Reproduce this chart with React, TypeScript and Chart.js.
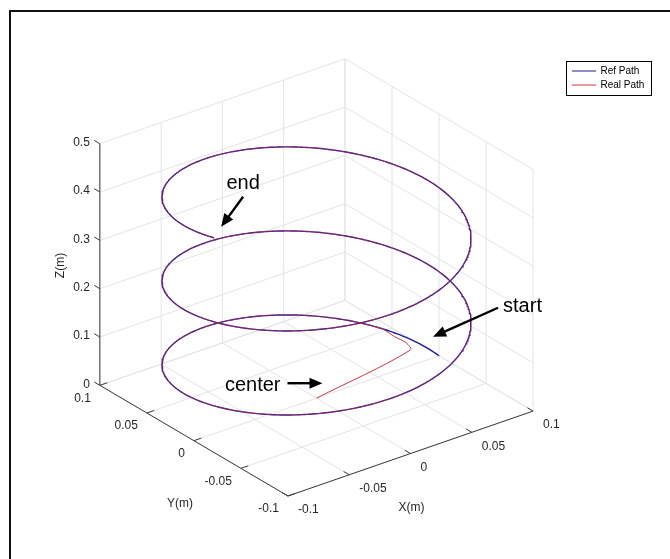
import React, { useEffect, useRef } from "react";
import { Chart, registerables } from "chart.js";

Chart.register(...registerables);

// ---------- data ----------
const X_LIMITS = [-0.1, 0.1];
const Y_LIMITS = [-0.1, 0.1];
const Z_LIMITS = [0, 0.5];
const X_TICKS = [-0.1, -0.05, 0, 0.05, 0.1];
const Y_TICKS = [-0.1, -0.05, 0, 0.05, 0.1];
const Z_TICKS = [0, 0.1, 0.2, 0.3, 0.4, 0.5];
const X_TICK_LABELS = ["-0.1", "-0.05", "0", "0.05", "0.1"];
const Y_TICK_LABELS = ["-0.1", "-0.05", "0", "0.05", "0.1"];
const Z_TICK_LABELS = ["0", "0.1", "0.2", "0.3", "0.4", "0.5"];
const AXIS_TITLES = ["X(m)", "Y(m)", "Z(m)"];
const SERIES_NAMES = ["Ref Path", "Real Path"];

// reference helix: radius, angle range (deg), z range (m)
const REF_RADIUS = [0.1];
const REF_ANGLE_DEG = [0, 911];
const REF_Z = [0, 0.44];
// real path: approach from the centre, then it joins the reference helix
const REAL_APPROACH_X = [0, 0.088, 0.0915, 0.09];
const REAL_APPROACH_Y = [0, 0.015, 0.024, 0.034];
const REAL_APPROACH_Z = [0, 0.005, 0.007, 0.009];
const REAL_JOIN_ANGLE_DEG = [27];

const ANNOTATION_TEXTS = ["end", "start", "center"];

// ---------- view (MATLAB default 3-D view) ----------
const VIEW_AZ = -37.5;
const VIEW_EL = 30;
const U_RANGE = [-1.0242, 1.1441];
const V_RANGE = [-1.0093, 0.9943];

const FONT = '"Liberation Sans", Arial, Helvetica, sans-serif';
const REF_COLOR = "#1d1d9e";
const REAL_OVERLAP_COLOR = "rgba(215,40,50,0.6)";
const REAL_COLOR = "#d0343e";
const GRID_COLOR = "#e3e3e3";
const AXIS_COLOR = "#3a3a3a";
const TEXT_COLOR = "#262626";

function project(x: number, y: number, z: number) {
  const xn = (x - X_LIMITS[0]) / (X_LIMITS[1] - X_LIMITS[0]) - 0.5;
  const yn = (y - Y_LIMITS[0]) / (Y_LIMITS[1] - Y_LIMITS[0]) - 0.5;
  const zn = (z - Z_LIMITS[0]) / (Z_LIMITS[1] - Z_LIMITS[0]) - 0.5;
  const a = (VIEW_AZ * Math.PI) / 180;
  const e = (VIEW_EL * Math.PI) / 180;
  return {
    x: Math.cos(a) * xn + Math.sin(a) * yn,
    y: -Math.sin(e) * Math.sin(a) * xn + Math.sin(e) * Math.cos(a) * yn + Math.cos(e) * zn,
  };
}

function helixPoint(deg: number) {
  const t = (deg * Math.PI) / 180;
  const frac = (deg - REF_ANGLE_DEG[0]) / (REF_ANGLE_DEG[1] - REF_ANGLE_DEG[0]);
  return [
    REF_RADIUS[0] * Math.cos(t),
    REF_RADIUS[0] * Math.sin(t),
    REF_Z[0] + frac * (REF_Z[1] - REF_Z[0]),
  ];
}

function buildRef() {
  const pts: { x: number; y: number }[] = [];
  for (let d = REF_ANGLE_DEG[0]; d <= REF_ANGLE_DEG[1]; d += 1) {
    const [x, y, z] = helixPoint(d);
    pts.push(project(x, y, z));
  }
  return pts;
}

function buildReal() {
  const pts: { x: number; y: number }[] = [];
  for (let i = 0; i < REAL_APPROACH_X.length; i++) {
    pts.push(project(REAL_APPROACH_X[i], REAL_APPROACH_Y[i], REAL_APPROACH_Z[i]));
  }
  for (let d = REAL_JOIN_ANGLE_DEG[0]; d <= REF_ANGLE_DEG[1]; d += 1) {
    const [x, y, z] = helixPoint(d);
    pts.push(project(x, y, z));
  }
  return pts;
}

type P3 = [number, number, number];

function segDataset(a: P3, b: P3, color: string, width: number, order: number) {
  return {
    label: "",
    data: [project(a[0], a[1], a[2]), project(b[0], b[1], b[2])],
    borderColor: color,
    borderWidth: width,
    showLine: true,
    pointRadius: 0,
    tension: 0,
    order,
    decor: true,
  };
}

function buildDatasets() {
  const ds: any[] = [];
  const [x0, x1] = X_LIMITS;
  const [y0, y1] = Y_LIMITS;
  const [z0, z1] = Z_LIMITS;
  // floor grid (z = z0)
  X_TICKS.forEach((xt) => ds.push(segDataset([xt, y0, z0], [xt, y1, z0], GRID_COLOR, 1, 4)));
  Y_TICKS.forEach((yt) => ds.push(segDataset([x0, yt, z0], [x1, yt, z0], GRID_COLOR, 1, 4)));
  // back wall y = y1
  X_TICKS.forEach((xt) => ds.push(segDataset([xt, y1, z0], [xt, y1, z1], GRID_COLOR, 1, 4)));
  Z_TICKS.forEach((zt) => ds.push(segDataset([x0, y1, zt], [x1, y1, zt], GRID_COLOR, 1, 4)));
  // back wall x = x1
  Y_TICKS.forEach((yt) => ds.push(segDataset([x1, yt, z0], [x1, yt, z1], GRID_COLOR, 1, 4)));
  Z_TICKS.forEach((zt) => ds.push(segDataset([x1, y0, zt], [x1, y1, zt], GRID_COLOR, 1, 4)));
  // axes
  ds.push(segDataset([x0, y0, z0], [x1, y0, z0], AXIS_COLOR, 1, 3));
  ds.push(segDataset([x0, y0, z0], [x0, y1, z0], AXIS_COLOR, 1, 3));
  ds.push(segDataset([x0, y1, z0], [x0, y1, z1], AXIS_COLOR, 1, 3));
  // ticks
  const tl = 0.03;
  X_TICKS.forEach((xt) => ds.push(segDataset([xt, y0, z0], [xt, y0 + tl * (y1 - y0), z0], AXIS_COLOR, 1, 3)));
  Y_TICKS.forEach((yt) => ds.push(segDataset([x0, yt, z0], [x0 + tl * (x1 - x0), yt, z0], AXIS_COLOR, 1, 3)));
  Z_TICKS.forEach((zt) => ds.push(segDataset([x0, y1, zt], [x0, y1 + tl * (y1 - y0), zt], AXIS_COLOR, 1, 3)));
  // paths
  ds.push({
    label: SERIES_NAMES[0],
    data: buildRef(),
    borderColor: REF_COLOR,
    borderWidth: 1.4,
    showLine: true,
    pointRadius: 0,
    tension: 0,
    order: 2,
    legendColor: REF_COLOR,
  });
  const approachCount = REAL_APPROACH_X.length + 4;
  ds.push({
    label: SERIES_NAMES[1],
    data: buildReal(),
    borderColor: REAL_OVERLAP_COLOR,
    borderWidth: 1,
    showLine: true,
    pointRadius: 0,
    tension: 0.35,
    order: 1,
    legendColor: REAL_COLOR,
    segment: {
      borderColor: (c: any) => (c.p0DataIndex < approachCount ? REAL_COLOR : REAL_OVERLAP_COLOR),
    },
  });
  return ds;
}

function drawArrow(ctx: CanvasRenderingContext2D, x1: number, y1: number, x2: number, y2: number) {
  const dx = x2 - x1, dy = y2 - y1;
  const len = Math.hypot(dx, dy);
  const ux = dx / len, uy = dy / len;
  const hl = 13, hw = 5.5;
  const bx = x2 - ux * hl, by = y2 - uy * hl;
  ctx.save();
  ctx.strokeStyle = "#000";
  ctx.fillStyle = "#000";
  ctx.lineWidth = 2.4;
  ctx.beginPath();
  ctx.moveTo(x1, y1);
  ctx.lineTo(bx + ux * 1, by + uy * 1);
  ctx.stroke();
  ctx.beginPath();
  ctx.moveTo(x2, y2);
  ctx.lineTo(bx - uy * hw, by + ux * hw);
  ctx.lineTo(bx + uy * hw, by - ux * hw);
  ctx.closePath();
  ctx.fill();
  ctx.restore();
}

const overlayPlugin = {
  id: "overlay3d",
  afterDraw(chart: any) {
    const ctx: CanvasRenderingContext2D = chart.ctx;
    const sx = chart.scales.x, sy = chart.scales.y;
    const pix = (x: number, y: number, z: number) => {
      const p = project(x, y, z);
      return [sx.getPixelForValue(p.x), sy.getPixelForValue(p.y)];
    };
    const [x0, x1] = X_LIMITS;
    const [y0, y1] = Y_LIMITS;
    const [z0, z1] = Z_LIMITS;
    ctx.save();
    ctx.fillStyle = TEXT_COLOR;
    ctx.font = `12px ${FONT}`;
    ctx.textBaseline = "middle";
    // x tick labels
    ctx.textAlign = "left";
    X_TICKS.forEach((xt, i) => {
      const [px, py] = pix(xt, y0, z0);
      ctx.fillText(X_TICK_LABELS[i], px + 10, py + 14);
    });
    // y tick labels
    ctx.textAlign = "right";
    Y_TICKS.forEach((yt, i) => {
      const [px, py] = pix(x0, yt, z0);
      ctx.fillText(Y_TICK_LABELS[i], px - 9, py + 13);
    });
    // z tick labels
    Z_TICKS.forEach((zt, i) => {
      const [px, py] = pix(x0, y1, zt);
      ctx.fillText(Z_TICK_LABELS[i], px - 10, py - 1);
    });
    // axis titles
    ctx.textAlign = "center";
    {
      const [px, py] = pix((x0 + x1) / 2, y0, z0);
      ctx.fillText(AXIS_TITLES[0], px + 1, py + 54);
    }
    {
      const [px, py] = pix(x0, (y0 + y1) / 2, z0);
      ctx.fillText(AXIS_TITLES[1], px - 14, py + 63);
    }
    {
      const [px, py] = pix(x0, y1, (z0 + z1) / 2);
      ctx.save();
      ctx.translate(px - 39, py + 1);
      ctx.rotate(-Math.PI / 2);
      ctx.fillText(AXIS_TITLES[2], 0, 0);
      ctx.restore();
    }
    ctx.restore();

    // annotations anchored to path points
    const refEnd = helixPoint(REF_ANGLE_DEG[1]);
    const refStart = helixPoint(REF_ANGLE_DEG[0]);
    const [ex, ey] = pix(refEnd[0], refEnd[1], refEnd[2]);
    const [stx, sty] = pix(refStart[0], refStart[1], refStart[2]);
    const [cx, cy] = pix(REAL_APPROACH_X[0], REAL_APPROACH_Y[0], REAL_APPROACH_Z[0]);
    ctx.save();
    ctx.fillStyle = "#000";
    ctx.font = `20px ${FONT}`;
    ctx.textBaseline = "middle";
    // end
    drawArrow(ctx, ex + 29, ey - 41, ex + 7, ey - 11);
    ctx.textAlign = "center";
    ctx.fillText(ANNOTATION_TEXTS[0], ex + 29, ey - 54);
    // start
    drawArrow(ctx, stx + 59, sty - 48, stx - 6, sty - 19);
    ctx.textAlign = "left";
    ctx.fillText(ANNOTATION_TEXTS[1], stx + 64, sty - 49);
    // center
    drawArrow(ctx, cx - 29, cy - 15, cx + 6, cy - 15);
    ctx.textAlign = "right";
    ctx.fillText(ANNOTATION_TEXTS[2], cx - 36, cy - 13);
    ctx.restore();

    // legend
    const items = chart.data.datasets.filter((d: any) => !d.decor);
    ctx.save();
    const lx = 566.5, ly = 61.5, lw = 85, lh = 34;
    ctx.fillStyle = "#fff";
    ctx.fillRect(lx, ly, lw, lh);
    ctx.strokeStyle = "#000";
    ctx.lineWidth = 1;
    ctx.strokeRect(lx, ly, lw, lh);
    ctx.font = `10px ${FONT}`;
    ctx.textAlign = "left";
    ctx.textBaseline = "middle";
    items.forEach((d: any, i: number) => {
      const yy = ly + 9.5 + i * 14;
      ctx.strokeStyle = d.legendColor;
      ctx.lineWidth = 1;
      ctx.beginPath();
      ctx.moveTo(lx + 5.5, yy);
      ctx.lineTo(lx + 29.5, yy);
      ctx.stroke();
      ctx.fillStyle = "#000";
      ctx.fillText(d.label, lx + 34, yy);
    });
    ctx.restore();

    // figure frame (top & left edges visible)
    ctx.save();
    ctx.fillStyle = "#111";
    ctx.fillRect(9, 10, chart.width, 2);
    ctx.fillRect(9, 10, 2, chart.height);
    ctx.restore();
  },
};

export default function App() {
  const ref = useRef<HTMLCanvasElement | null>(null);
  useEffect(() => {
    if (!ref.current) return;
    const chart = new Chart(ref.current, {
      type: "scatter",
      data: { datasets: buildDatasets() as any },
      options: {
        animation: false,
        responsive: false,
        devicePixelRatio: 1,
        events: [],
        layout: { padding: 0 },
        plugins: { legend: { display: false }, tooltip: { enabled: false } },
        scales: {
          x: { type: "linear", min: U_RANGE[0], max: U_RANGE[1], display: false },
          y: { type: "linear", min: V_RANGE[0], max: V_RANGE[1], display: false },
        },
      },
      plugins: [overlayPlugin],
    });
    return () => chart.destroy();
  }, []);
  return (
    <div style={{ position: "absolute", left: 0, top: 0, width: 670, height: 559, background: "#fff" }}>
      <canvas ref={ref} width={670} height={559} style={{ display: "block" }} />
    </div>
  );
}
